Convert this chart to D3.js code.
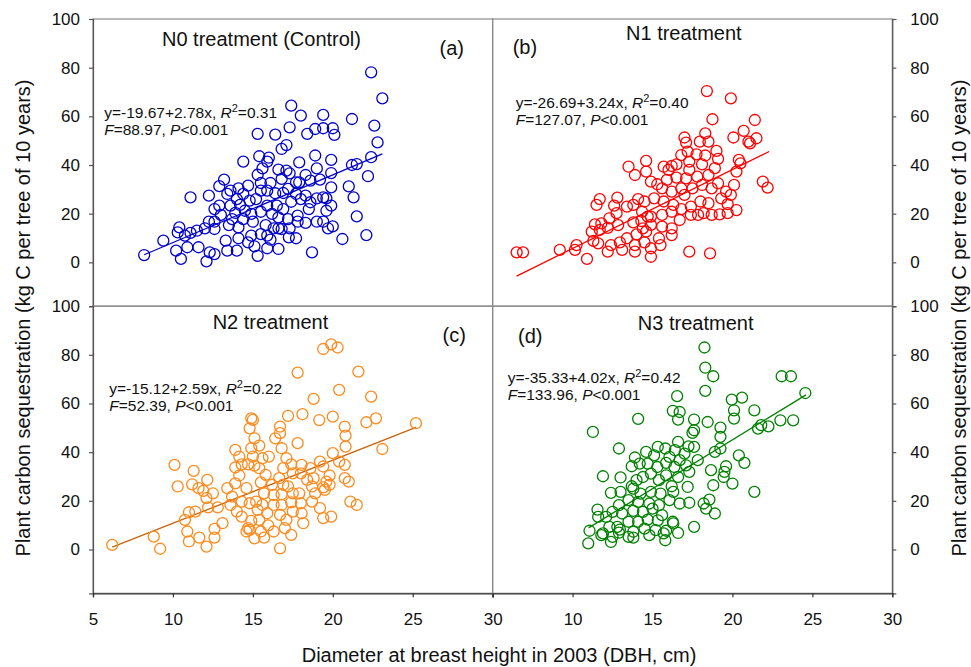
<!DOCTYPE html>
<html>
<head>
<meta charset="utf-8">
<script src="https://d3js.org/d3.v7.min.js"></script>
<style>
  body { margin: 0; background: #fff; }
  svg text { font-family: "Liberation Sans", Arial, sans-serif; fill: #111; }
</style>
</head>
<body>
<svg id="chart" width="971" height="667"></svg>
<script>
// panel titles, tags and colours
var titles = ["N0 treatment (Control)", "N1 treatment", "N2 treatment", "N3 treatment"];
var tags = ["(a)", "(b)", "(c)", "(d)"];
var dotColors = ["#0000cc", "#ff0000", "#ff8a1c", "#008000"];
var lineColors = ["#0000cc", "#ff0000", "#c8620a", "#008000"];

// regression results
var intercepts = [-19.67, -26.69, -15.12, -35.33];
var slopes = [2.78, 3.24, 2.59, 4.02];
var rSquared = ["0.31", "0.40", "0.22", "0.42"];
var fValues = ["88.97", "127.07", "52.39", "133.96"];
var lineStart = [8.2, 6.5, 6.2, 11.0];
var lineEnd = [23.1, 22.3, 25.2, 24.6];

// axis ticks
var yTicks = [0, 20, 40, 60, 80, 100];
var xTicks = [5, 10, 15, 20, 25, 30];

// N0 (control)
var n0Dbh = [22.4,23.1,17.4,18.0,19.4,21.2,17.3,15.3,16.4,18.4,18.9,19.4,20.0,20.1,22.6,22.8,16.8,17.1,14.4,15.4,
  16.0,17.9,18.9,19.9,19.0,22.4,21.5,21.2,22.2,19.9,21.0,21.3,21.5,22.1,20.6,18.7,19.9,19.9,19.6,19.4,
  19.7,20.0,19.4,19.0,19.2,18.6,18.3,17.9,17.3,17.1,16.6,15.6,15.9,15.3,15.5,16.1,16.8,17.7,17.7,17.2,
  16.9,16.4,15.9,15.5,14.7,14.4,14.0,14.1,13.2,12.9,13.6,12.25,11.1,13.4,12.9,12.6,13.0,13.6,14.2,14.8,
  15.2,15.9,16.5,16.9,17.4,18.0,18.3,18.6,18.5,17.8,17.2,16.6,16.2,15.5,14.9,14.5,13.9,13.7,14.4,15.0,
  15.8,16.3,16.8,17.3,18.3,17.8,14.1,13.5,12.6,12.25,12.0,11.5,11.1,10.4,10.3,10.75,12.6,9.4,8.2,10.2,
  10.5,10.9,11.6,12.1,12.3,12.6,13.3,13.4,14.0,14.1,14.7,14.9,15.1,15.3,15.5,15.9,15.9,16.1,16.6,16.6,
  17.7,17.25,19.0,19.6];
var n0Carbon = [78.1,67.4,64.4,60.3,60.6,58.9,55.5,52.8,52.5,52.8,54.8,55.1,55.1,52.4,56.2,49.3,46.6,48.2,41.4,43.6,
  43.0,41.1,43.9,42.1,38.6,43.2,40.4,40.0,35.4,36.7,31.2,26.7,18.9,11.2,9.6,4.1,30.8,23.3,21.2,16.7,
  14.0,14.8,26.7,26.3,34.0,33.6,35.9,32.9,36.6,37.7,38.1,38.6,41.4,36.0,32.6,32.6,34.3,32.9,28.1,30.2,
  28.5,28.4,29.5,29.5,31.5,28.1,26.0,30.4,34.0,31.3,29.5,27.4,26.7,28.1,23.3,21.9,19.5,23.3,23.6,25.4,
  26.0,23.3,23.3,21.9,24.9,26.0,27.4,24.7,21.9,19.2,17.8,18.5,19.9,20.8,19.9,21.2,20.3,17.8,17.8,16.7,
  15.3,14.0,13.7,14.0,16.2,16.7,14.4,15.3,16.7,16.7,14.0,13.0,12.1,14.4,12.3,11.0,13.7,8.9,3.0,4.8,
  1.4,6.2,6.2,0.4,4.1,3.4,8.9,4.8,4.8,9.9,8.2,11.0,6.6,2.7,11.6,11.0,5.8,9.3,5.5,14.0,
  9.9,10.3,16.7,26.3];

// N1
var n1Dbh = [18.4,19.9,18.75,21.4,20.7,20.06,21.0,21.5,21.1,18.3,
  17.96,18.5,17.0,17.1,17.2,16.8,17.75,18.3,19.1,20.4,
  20.5,20.25,21.9,22.2,14.6,13.5,13.9,14.6,15.7,16.0,
  16.5,17.3,18.1,18.9,18.5,17.8,17.1,16.5,15.9,15.3,
  14.9,15.6,16.2,16.8,17.5,18.1,18.7,19.1,19.6,20.1,
  19.9,19.3,19.7,20.25,19.7,19.2,18.7,18.2,17.85,17.4,
  18.5,18.0,17.4,16.8,16.3,15.7,15.1,14.5,14.1,13.8,
  13.4,12.8,12.6,11.7,11.5,12.75,12.3,11.8,11.4,11.2,
  11.7,12.2,12.85,13.8,14.3,14.9,15.6,16.2,16.7,16.2,
  15.6,14.9,14.4,14.6,14.0,13.4,12.96,13.1,12.2,12.4,
  11.6,11.3,13.9,13.9,14.5,14.9,14.9,15.4,15.5,16.2,
  10.25,10.15,9.2,10.9,6.5,6.9,17.3,18.6,14.7,14.35,
  17.0,17.3,16.2,19.0];
var n1Carbon = [70.4,67.4,58.8,58.5,54.0,51.3,49.6,51.0,48.9,53.0,
  49.6,49.6,51.3,49.2,45.5,44.1,44.4,43.9,42.5,42.1,
  40.7,37.3,33.2,30.7,41.7,39.3,35.9,37.3,39.3,38.0,
  40.3,41.4,40.3,38.7,35.9,35.2,34.5,34.8,33.9,32.1,
  33.2,30.4,29.1,30.4,30.4,31.8,30.4,32.5,29.1,31.8,
  27.7,26.3,23.9,21.5,20.2,19.7,19.5,20.2,19.5,19.5,
  24.3,25.0,22.9,21.9,23.6,25.0,26.3,25.0,26.0,23.6,
  22.9,26.6,23.3,26.0,23.6,20.2,18.1,16.0,15.6,12.6,
  13.3,14.2,15.3,16.4,17.0,18.8,19.5,20.8,17.4,14.0,
  14.7,15.4,14.0,12.6,11.5,9.9,8.2,5.1,4.4,7.1,
  7.8,8.8,7.1,4.4,8.2,5.8,2.3,9.9,7.1,11.2,
  7.1,5.1,5.1,1.4,4.1,4.1,4.4,3.7,18.8,20.8,
  27.7,38.0,39.6,45.8];

// N2
var n2Dbh = [6.2,8.8,9.2,10.1,10.3,11.3,11.2,11.6,12.15,11.9,
  12.5,12.1,10.75,11.0,11.4,10.9,11.0,11.65,12.1,12.6,
  12.6,13.1,12.2,12.8,13.4,13.9,14.15,13.9,14.15,13.9,
  13.7,13.6,14.0,14.3,14.3,14.6,14.8,14.9,15.0,15.1,
  14.9,15.4,15.0,15.1,15.6,16.0,15.4,15.8,15.5,15.7,
  15.2,14.8,15.6,15.3,15.9,15.4,14.9,14.7,14.6,15.1,
  14.8,15.5,15.7,15.96,16.3,16.7,16.3,16.3,16.2,16.7,
  16.7,16.4,16.8,17.1,16.9,16.65,16.9,16.8,16.8,16.7,
  17.2,17.8,17.4,17.5,17.2,17.5,17.4,17.5,17.1,17.0,
  17.4,18.1,18.05,18.0,17.9,18.0,18.05,18.15,17.8,18.8,
  19.15,18.6,18.8,18.7,18.9,18.7,19.2,19.2,19.4,19.8,
  19.6,19.4,19.5,19.8,19.4,19.9,19.4,19.9,20.3,20.0,
  20.4,21.6,22.4,22.7,22.1,20.75,20.8,20.8,20.0,20.4,
  20.75,20.75,21.0,21.1,21.5,23.1,25.2,14.7,14.3,18.4];
var n2Carbon = [1.9,5.3,0.3,34.8,25.9,32.3,26.8,25.2,28.6,24.1,
  23.1,21.1,12.2,15.3,15.6,7.4,3.3,4.9,1.2,8.5,
  4.9,10.8,17.3,17.3,25.2,40.9,38.2,33.7,30.4,27.2,
  21.7,18.3,15.6,13.5,19.7,25.2,49.8,53.9,53.3,45.7,
  41.6,42.7,38.2,34.5,37.5,38.2,33.4,30.7,27.6,23.1,
  19.7,19.0,18.3,16.3,14.9,12.2,11.8,8.8,7.4,4.6,
  8.1,7.4,4.9,9.9,7.4,0.5,22.4,18.3,26.6,50.5,
  47.8,45.7,41.6,37.5,33.4,29.3,26.6,22.7,18.3,14.2,
  54.9,43.7,35.0,31.3,25.9,23.1,19.4,15.6,12.2,8.8,
  6.0,55.6,34.8,31.3,23.1,19.0,14.9,10.8,72.7,61.9,
  53.2,33.4,29.3,25.9,23.1,19.7,17.0,36.1,34.1,30.4,
  27.9,25.5,24.5,26.6,12.9,13.5,82.4,84.3,83.0,54.6,
  65.6,73.1,62.8,53.9,52.3,50.5,46.8,42.3,39.6,36.1,
  34.8,29.3,27.9,19.7,18.3,41.3,51.9,35.0,35.0,28.6];

// N3
var n3Dbh = [18.25,18.3,18.8,18.3,23.08,23.66,24.56,16.54,19.96,20.6,
  20.1,20.1,21.37,16.27,16.7,16.6,17.6,18.45,17.6,17.5,
  19.25,19.25,14.1,11.27,12.9,21.6,21.8,22.25,23.0,23.8,
  19.25,18.9,20.4,20.75,19.6,19.5,19.45,18.8,20.0,21.37,
  18.66,18.56,18.2,18.9,18.35,17.6,17.83,17.6,17.25,17.0,
  16.6,16.4,16.06,15.8,15.33,15.1,14.6,13.9,14.2,13.7,
  14.7,15.3,15.85,16.37,16.7,17.1,17.3,16.6,15.85,15.4,
  14.9,14.4,14.0,13.7,13.0,11.9,12.4,13.0,13.8,14.25,
  14.9,15.5,16.2,16.3,17.2,17.3,16.7,16.06,15.4,14.8,
  14.1,13.5,12.9,12.5,12.1,13.1,13.8,14.4,15.0,15.6,
  16.27,15.33,14.7,14.1,13.5,12.8,11.6,11.06,11.9,12.9,
  13.8,14.5,15.2,15.85,16.6,12.3,14.8,10.98,11.8,12.4,
  12.5,13.5,13.8,15.8,15.7,16.3,12.96,11.56];
var n3Carbon = [83.0,74.7,71.2,65.2,71.2,71.2,64.3,63.0,61.6,62.4,
  57.2,53.8,57.2,57.0,56.5,53.4,53.4,52.4,49.0,47.9,
  50.1,46.3,53.7,48.3,41.5,49.7,51.1,50.6,53.1,53.1,
  41.5,40.1,38.7,35.6,34.2,31.9,29.8,26.4,27.1,23.7,
  32.6,20.5,18.9,14.8,16.8,9.3,36.7,42.2,42.4,39.4,
  44.2,40.8,38.1,41.5,42.2,38.7,40.1,37.8,35.3,34.2,
  35.3,33.9,35.6,33.9,36.7,34.6,31.9,29.8,30.5,28.5,
  31.2,29.8,28.5,26.0,29.6,30.1,23.3,23.7,25.0,23.0,
  23.7,23.0,26.0,23.7,25.7,19.2,18.9,20.3,18.2,18.9,
  19.6,20.3,18.2,15.5,13.4,14.8,15.9,15.5,16.8,14.1,
  11.4,12.0,12.3,11.4,11.4,9.3,13.4,7.7,6.6,6.9,
  7.3,8.6,8.0,7.7,6.8,9.3,5.9,2.5,5.9,3.1,
  5.2,5.2,4.9,3.8,6.6,10.7,8.2,16.4];

var dbhSets = [n0Dbh, n1Dbh, n2Dbh, n3Dbh];
var carbonSets = [n0Carbon, n1Carbon, n2Carbon, n3Carbon];

// label anchors in data units: [dbh, carbon]
var titlePos = [[15.54, 88.9], [16.96, 91.3], [16.1, 90.5], [17.7, 90.1]];
var tagPos = [[27.44, 85.1], [7.02, 85.5], [27.6, 85.3], [7.35, 84.7]];
var eqPos = [[5.7, 59.2], [6.44, 63.4], [6.02, 64.1], [5.94, 68.4]];

// overall frame (window.top is read-only, so use other names)
var plotLeft = 93, plotRight = 892.3, plotTop = 19, plotBottom = 593.3;
var panelW = (plotRight - plotLeft) / 2;
var panelH = (plotBottom - plotTop) / 2;

var svg = d3.select("#chart");

for (var p = 0; p < 4; p++)
{
  var col = p % 2, row = Math.floor(p / 2);
  var x0 = plotLeft + col * panelW;
  var y0 = plotTop + row * panelH;

  var x = d3.scaleLinear().domain([5, 30]).range([x0, x0 + panelW]);
  var y = d3.scaleLinear().domain([-18, 100]).range([y0 + panelH, y0]);

  var g = svg.append("g");

  // panel box
  g.append("rect")
    .attr("x", x0).attr("y", y0)
    .attr("width", panelW).attr("height", panelH)
    .attr("fill", "none")
    .attr("stroke", "#8a8a8a")
    .attr("stroke-width", 1.2);

  // y axis, left for column 0, right for column 1
  var yAxis = col == 0
    ? d3.axisLeft(y).tickValues(yTicks).tickSize(4).tickPadding(9)
    : d3.axisRight(y).tickValues(yTicks).tickSize(4).tickPadding(14);
  var ya = g.append("g")
    .attr("transform", "translate(" + (col == 0 ? x0 : x0 + panelW) + ",0)")
    .call(yAxis);

  // x axis only on the bottom row
  if (row == 1)
  {
    var xAxis = d3.axisBottom(x).tickValues(xTicks).tickSize(4).tickPadding(16)
      .tickFormat(function(d) { return (col == 1 && d == 5) ? "" : d; });
    var xa = g.append("g")
      .attr("transform", "translate(0," + (y0 + panelH) + ")")
      .call(xAxis);
    xa.select(".domain").attr("stroke", "#333").attr("stroke-width", 1.3);
    xa.selectAll(".tick line").attr("stroke", "#333").attr("stroke-width", 1.2);
    xa.selectAll(".tick text").style("font-size", "17px").attr("fill", "#111");
  }

  ya.select(".domain").attr("stroke", "#555").attr("stroke-width", 1.2);
  ya.selectAll(".tick line").attr("stroke", "#555").attr("stroke-width", 1.2);
  ya.selectAll(".tick text").style("font-size", "17px").attr("fill", "#111");

  // regression line
  var xs = [lineStart[p], lineEnd[p]];
  g.append("line")
    .attr("x1", x(xs[0])).attr("y1", y(intercepts[p] + slopes[p] * xs[0]))
    .attr("x2", x(xs[1])).attr("y2", y(intercepts[p] + slopes[p] * xs[1]))
    .attr("stroke", lineColors[p])
    .attr("stroke-width", 1.3);

  // points
  var pts = dbhSets[p].map(function(d, i) { return { dbh: d, c: carbonSets[p][i] }; });
  g.selectAll("circle")
    .data(pts)
    .enter().append("circle")
    .attr("cx", function(d) { return x(d.dbh); })
    .attr("cy", function(d) { return y(d.c); })
    .attr("r", 5.5)
    .attr("fill", "none")
    .attr("stroke", dotColors[p])
    .attr("stroke-width", 1.3);

  // title and tag
  g.append("text")
    .attr("x", x(titlePos[p][0])).attr("y", y(titlePos[p][1]))
    .attr("text-anchor", "middle")
    .style("font-size", "20px")
    .text(titles[p]);

  g.append("text")
    .attr("x", x(tagPos[p][0])).attr("y", y(tagPos[p][1]))
    .attr("text-anchor", "middle")
    .style("font-size", "20px")
    .text(tags[p]);

  // equation text
  var eq = g.append("text")
    .attr("x", x(eqPos[p][0])).attr("y", y(eqPos[p][1]))
    .style("font-size", "15.5px");
  eq.append("tspan").text("y=" + intercepts[p].toFixed(2) + "+" + slopes[p].toFixed(2) + "x, ");
  eq.append("tspan").style("font-style", "italic").text("R");
  eq.append("tspan").attr("dy", -6).style("font-size", "11px").text("2");
  eq.append("tspan").attr("dy", 6).text("=" + rSquared[p]);

  var fl = g.append("text")
    .attr("x", x(eqPos[p][0])).attr("y", y(eqPos[p][1]) + 17)
    .style("font-size", "15.5px");
  fl.append("tspan").style("font-style", "italic").text("F");
  fl.append("tspan").text("=" + fValues[p] + ", ");
  fl.append("tspan").style("font-style", "italic").text("P");
  fl.append("tspan").text("<0.001");
}

// shared axis titles
var yLabel = "Plant carbon sequestration (kg C per tree of 10 years)";
svg.append("text")
  .attr("transform", "translate(30,318) rotate(-90)")
  .attr("text-anchor", "middle")
  .style("font-size", "20px")
  .text(yLabel);

svg.append("text")
  .attr("transform", "translate(966,318) rotate(-90)")
  .attr("text-anchor", "middle")
  .style("font-size", "20px")
  .text(yLabel);

svg.append("text")
  .attr("x", 499).attr("y", 662)
  .attr("text-anchor", "middle")
  .style("font-size", "20px")
  .text("Diameter at breast height in 2003 (DBH, cm)");
</script>
</body>
</html>
